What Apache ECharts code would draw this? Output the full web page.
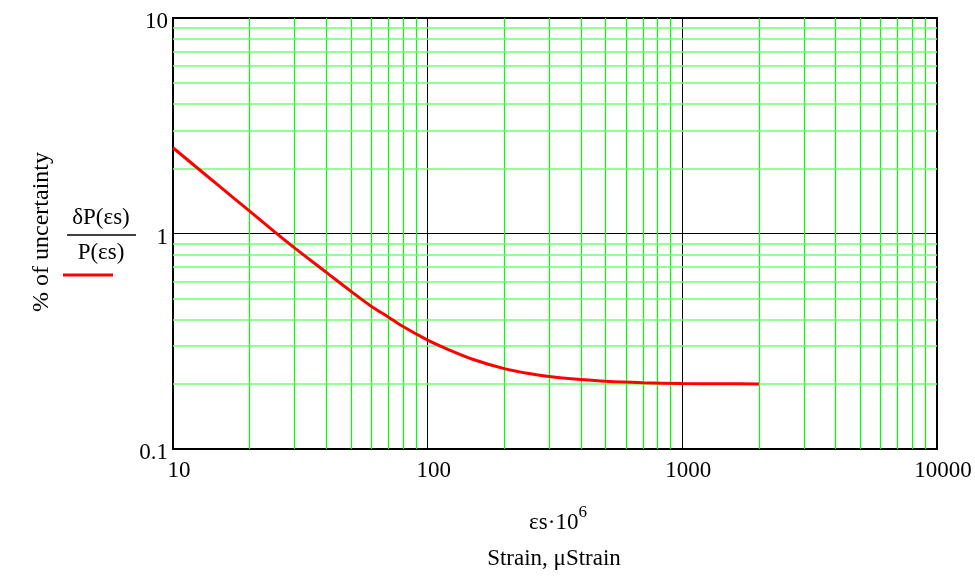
<!DOCTYPE html>
<html>
<head>
<meta charset="utf-8">
<script src="https://cdn.jsdelivr.net/npm/echarts@6/dist/echarts.min.js"></script>
<style>
  html, body { margin: 0; padding: 0; background: #fff; }
  #chart { width: 975px; height: 582px; }
</style>
</head>
<body>
<div id="chart"></div>
<script>
// strain values (microstrain) and % uncertainty
const strain = [10, 12, 15, 20, 25, 30, 40, 50, 60, 70, 80, 100, 120, 150, 200, 250, 300, 400, 500, 700, 1000, 1500, 2000];
const uncertainty = [2.5, 2.09, 1.68, 1.27, 1.02, 0.857, 0.66, 0.539, 0.46, 0.41, 0.37, 0.32, 0.29, 0.261, 0.236, 0.224, 0.217, 0.21, 0.206, 0.203, 0.2015, 0.2007, 0.2004];

// minor grid positions (green)
const xMinor = [20, 30, 40, 50, 60, 70, 80, 90, 200, 300, 400, 500, 600, 700, 800, 900, 2000, 3000, 4000, 5000, 6000, 7000, 8000, 9000];
const yMinor = [0.2, 0.3, 0.4, 0.5, 0.6, 0.7, 0.8, 0.9, 2, 3, 4, 5, 6, 7, 8, 9];

const serif = 'Liberation Serif';

let myChart = echarts.init(document.getElementById('chart'));

let option = {
  animation: false,
  grid: {
    left: 173, right: 38, top: 18, bottom: 133,
    show: true,
    borderColor: '#000',
    borderWidth: 2,
    backgroundColor: 'transparent'
  },
  xAxis: {
    type: 'log',
    logBase: 10,
    min: 10,
    max: 10000,
    axisLine: { show: false },
    axisTick: { show: false },
    splitLine: { show: true, lineStyle: { color: '#000', width: 1 } },
    axisLabel: {
      color: '#000',
      fontFamily: serif,
      fontSize: 23,
      margin: 10,
      padding: [0, 0, 0, 12],
      formatter: v => String(v)
    }
  },
  yAxis: {
    type: 'log',
    logBase: 10,
    min: 0.1,
    max: 10,
    axisLine: { show: false },
    axisTick: { show: false },
    splitLine: { show: true, lineStyle: { color: '#000', width: 1 } },
    axisLabel: {
      color: '#000',
      fontFamily: serif,
      fontSize: 23,
      margin: 5,
      verticalAlign: 'top',
      lineHeight: 8,
      formatter: v => String(v)
    }
  },
  series: [
    {
      // minor grid
      type: 'line',
      data: [],
      silent: true,
      z: 1,
      markLine: {
        silent: true,
        symbol: 'none',
        animation: false,
        label: { show: false },
        data: xMinor.map(v => ({ xAxis: v, lineStyle: { color: '#00ff00', width: 1.2, type: 'solid' } }))
          .concat(yMinor.map(v => ({ yAxis: v, lineStyle: { color: '#70ff70', width: 1.6, type: 'solid' } })))
      }
    },
    {
      name: 'uncertainty',
      type: 'line',
      z: 5,
      data: strain.map((x, i) => [x, uncertainty[i]]),
      smooth: 0.3,
      showSymbol: false,
      lineStyle: { color: '#ff0000', width: 3 }
    }
  ],
  graphic: [
    {
      type: 'text', x: 42, y: 232, rotation: Math.PI / 2,
      style: { text: '% of uncertainty', font: '24px ' + serif, fill: '#000', align: 'center', verticalAlign: 'middle' }
    },
    {
      type: 'text', x: 101, y: 218,
      style: { text: 'δP(εs)', font: '23px ' + serif, fill: '#000', align: 'center', verticalAlign: 'middle' }
    },
    {
      type: 'line', shape: { x1: 67, y1: 235, x2: 136, y2: 235 },
      style: { stroke: '#000', lineWidth: 1.5 }
    },
    {
      type: 'text', x: 101, y: 253,
      style: { text: 'P(εs)', font: '23px ' + serif, fill: '#000', align: 'center', verticalAlign: 'middle' }
    },
    {
      type: 'line', shape: { x1: 63, y1: 275, x2: 113, y2: 275 },
      style: { stroke: '#ff0000', lineWidth: 3 }
    },
    {
      type: 'text', x: 558, y: 518,
      style: {
        text: '{a|εs·10}{s|6}',
        align: 'center', verticalAlign: 'middle',
        rich: {
          a: { fontFamily: serif, fontSize: 23, fill: '#000', color: '#000', padding: [10, 0, 0, 0] },
          s: { fontFamily: serif, fontSize: 17, fill: '#000', color: '#000', padding: [0, 0, 10, 0] }
        }
      }
    },
    {
      type: 'text', x: 554, y: 559,
      style: { text: 'Strain, μStrain', font: '23px ' + serif, fill: '#000', align: 'center', verticalAlign: 'middle' }
    }
  ]
};

myChart.setOption(option);
</script>
</body>
</html>
